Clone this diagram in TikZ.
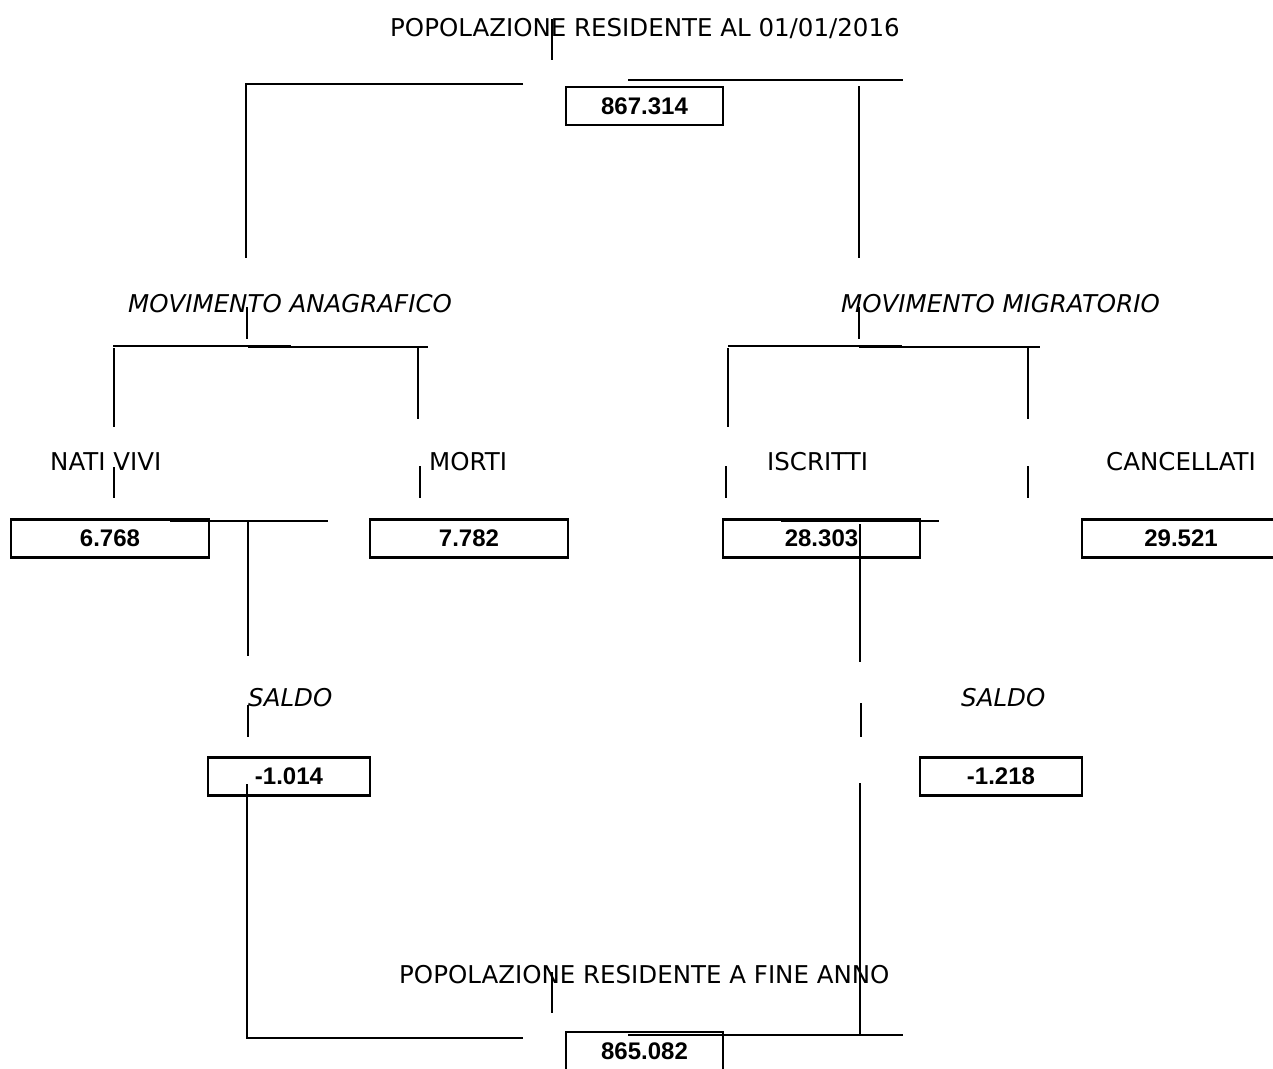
\documentclass[tikz,border=0pt]{standalone}
\usepackage{fontspec}
\setmainfont{DejaVu Sans}
\newfontfamily\numfont{Liberation Sans}
\begin{document}
\begin{tikzpicture}[x=1pt, y=-1pt,
        lbl/.style={inner sep=0pt, anchor=base west, font=\fontsize{24.5}{29}\selectfont},
        ital/.style={inner sep=0pt, anchor=base west, font=\fontsize{24.5}{29}\selectfont\itshape},
        valbox/.style={draw, line width=2.6pt, inner sep=0pt, minimum height=38pt, minimum width=198pt,
            font=\fontsize{24}{29}\selectfont\numfont\bfseries},
        wire/.style={line width=2pt}]
        \useasboundingbox (0, 0) rectangle (1273, 1068);
        \clip (0, 0) rectangle (1273, 1068);
        \node [lbl] (popIni) at (390, 36) {POPOLAZIONE RESIDENTE AL 01/01/2016};
        \node [valbox, minimum width=157pt] (valIni) at (644.5, 106) {867.314};
        \node [ital] (movAna) at (128, 312) {MOVIMENTO ANAGRAFICO};
        \node [ital] (movMig) at (841, 312) {MOVIMENTO MIGRATORIO};
        \node [lbl] (nati) at (50, 470) {NATI VIVI};
        \node [lbl] (morti) at (429, 470) {MORTI};
        \node [lbl] (iscr) at (767, 470) {ISCRITTI};
        \node [lbl] (canc) at (1106, 470) {CANCELLATI};
        \node [valbox] (valNati) at (110, 538.5) {6.768};
        \node [valbox] (valMorti) at (469, 538.5) {7.782};
        \node [valbox, minimum width=197pt] (valIscr) at (821.5, 538.5) {28.303};
        \node [valbox] (valCanc) at (1181, 538.5) {29.521};
        \node [ital] (saldoAna) at (248, 706) {SALDO};
        \node [ital] (saldoMig) at (961, 706) {SALDO};
        \node [valbox, minimum width=162pt] (valSaldoAna) at (289, 776.5) {-1.014};
        \node [valbox, minimum width=162pt] (valSaldoMig) at (1001, 776.5) {-1.218};
        \node [lbl] (popFin) at (399, 983) {POPOLAZIONE RESIDENTE A FINE ANNO};
        \node [valbox, minimum width=157pt] (valFin) at (644.5, 1051) {865.082};
        \draw [wire] (552, 19) -- (552, 60);
        \draw [wire] (523, 84) -- (246, 84) -- (246, 258);
        \draw [wire] (628, 80) -- (903, 80);
        \draw [wire] (859, 86) -- (859, 258);
        \draw [wire] (247, 307) -- (247, 339);
        \draw [wire] (113, 345.5) -- (291, 345.5);
        \draw [wire] (248, 346.5) -- (428, 346.5);
        \draw [wire] (114, 348) -- (114, 427);
        \draw [wire] (418, 347) -- (418, 419);
        \draw [wire] (114, 467) -- (114, 498);
        \draw [wire] (420, 466) -- (420, 498);
        \draw [wire] (859, 307) -- (859, 339);
        \draw [wire] (728, 345.5) -- (902, 345.5);
        \draw [wire] (859, 346.5) -- (1040, 346.5);
        \draw [wire] (728, 348) -- (728, 427);
        \draw [wire] (1028, 347) -- (1028, 419);
        \draw [wire] (726, 466) -- (726, 498);
        \draw [wire] (1028, 466) -- (1028, 498);
        \draw [wire] (170, 520.5) -- (328, 520.5);
        \draw [wire] (248, 521) -- (248, 656);
        \draw [wire] (781, 520.5) -- (939, 520.5);
        \draw [wire] (860, 524) -- (860, 662);
        \draw [wire] (248, 705) -- (248, 737);
        \draw [wire] (861, 703) -- (861, 737);
        \draw [wire] (247, 784) -- (247, 1038) -- (523, 1038);
        \draw [wire] (860, 783) -- (860, 1035);
        \draw [wire] (628, 1035) -- (903, 1035);
        \draw [wire] (552, 972) -- (552, 1013);
    \end{tikzpicture}
\end{document}
